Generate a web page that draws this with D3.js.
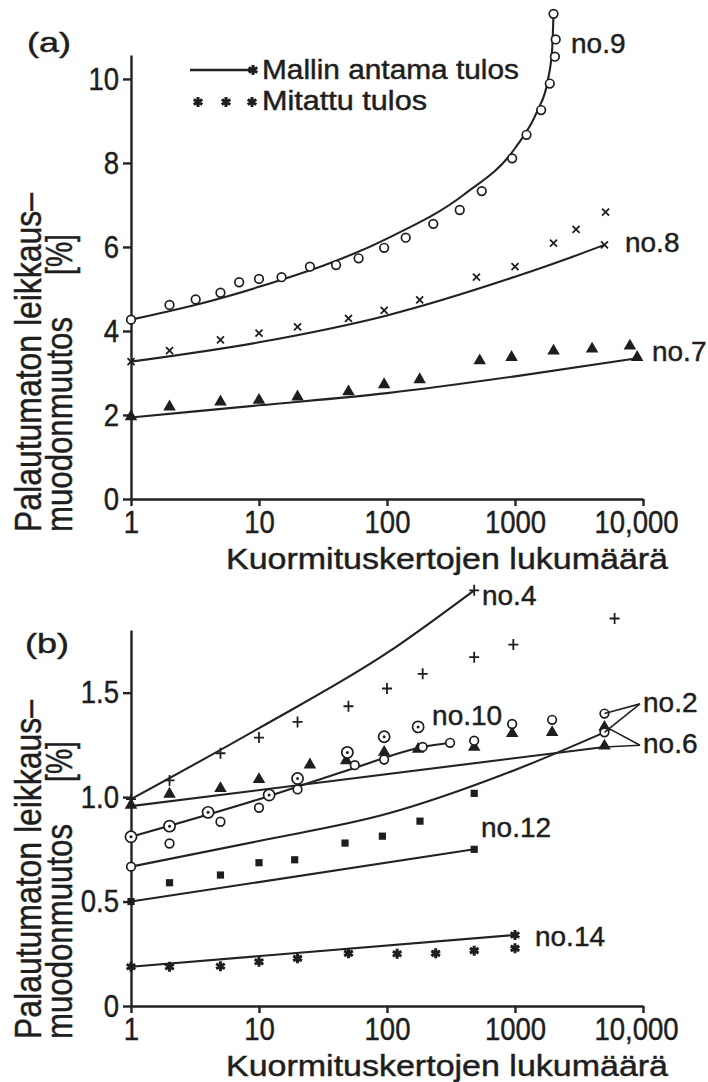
<!DOCTYPE html>
<head>
  <meta charset="utf-8">
  <script src="https://cdn.jsdelivr.net/npm/d3@7"></script>
  <style>
    body { margin: 0; background: #fff; }
    svg { display: block; }
    text { font-family: "Liberation Sans", Arial, sans-serif; fill: #1e1e1e; stroke: #1e1e1e; stroke-width: 0.45px; }
    .axis path, .axis line { stroke: #222; stroke-width: 2.4; }
  </style>
</head>
<body>
<div id="chart"></div>
<script>

// ---- data (x = number of load cycles, y = permanent shear strain %) ----
var ticksX = [1, 10, 100, 1000, 10000]
  , tickLabelsX = ["1", "10", "100", "1000", "10,000"]
  , ticksA = [0, 2, 4, 6, 8, 10]
  , tickLabelsA = ["0", "2", "4", "6", "8", "10"]
  , ticksB = [0, 0.5, 1.0, 1.5]
  , tickLabelsB = ["0", "0.5", "1.0", "1.5"]

var xTitle = "Kuormituskertojen lukumäärä"
  , yTitle1 = "Palautumaton leikkaus–"
  , yTitle2 = "muodonmuutos"
  , yUnit = "[%]"
  , legendModel = "Mallin antama tulos"
  , legendMeasured = "Mitattu tulos"

// panel (a)
var no9Model = [[1,4.27],[3,4.6],[10,5.05],[100,6.2],[400,7.25],[1000,8.35],[1500,9.25],[1800,9.95],[1950,10.7],[2000,11.55]]
var no9Measured = [[2,4.62],[3.2,4.75],[5,4.91],[7,5.16],[10,5.24],[15,5.28],[25,5.53],[40,5.57],[60,5.73],[95,5.98],[140,6.22],[230,6.55],[370,6.88],[550,7.33],[950,8.11],[1230,8.67],[1600,9.26],[1870,9.89],[2050,10.53],[2080,10.94]]
var no8Model = [[1,3.27],[10,3.73],[100,4.37],[1000,5.29],[2400,5.69],[5000,6.05]]
var no8Measured = [[2,3.53],[5,3.79],[10,3.95],[20,4.1],[50,4.3],[95,4.49],[180,4.74],[500,5.28],[1000,5.53],[2000,6.09],[3000,6.42],[5100,6.83]]
var no7Model = [[1,1.94],[10,2.23],[100,2.52],[1000,2.92],[9000,3.35]]
var no7Measured = [[2,2.17],[5,2.29],[10,2.33],[20,2.41],[50,2.53],[95,2.7],[180,2.82],[530,3.27],[940,3.35],[2000,3.5],[4000,3.55],[7900,3.62]]

// panel (b)
var no4Model = [[1,0.99],[10,1.33],[100,1.69],[480,1.99]]
var no4Measured = [[2,1.08],[5,1.21],[10,1.285],[20,1.36],[50,1.435],[100,1.52],[190,1.59],[480,1.67],[970,1.73],[6000,1.855]]
var no6Model = [[1,0.957],[5000,1.24]]
var no6Measured = [[2,1.01],[5,1.037],[10,1.08],[25,1.15],[48,1.17],[95,1.21],[175,1.225],[480,1.234],[950,1.3],[1950,1.305],[5000,1.33]]
var no10Model = [[1,0.81],[10,0.99],[50,1.13],[190,1.24],[311,1.26]]
var no10Measured = [[2,0.861],[4,0.927],[12,1.01],[20,1.089],[49,1.214],[95,1.289],[175,1.336]]
var no2Model = [[1,0.667],[10,0.79],[100,0.92],[1000,1.13],[5000,1.31]]
var no2Measured = [[2,0.778],[5,0.882],[10,0.949],[20,1.037],[56,1.153],[95,1.18],[190,1.24],[480,1.27],[950,1.35],[1950,1.37],[5000,1.4]]
var no12Model = [[1,0.5],[480,0.75]]
var no12Measured = [[2,0.59],[5,0.627],[10,0.686],[19,0.7],[47,0.78],[92,0.813],[181,0.885],[480,1.018]]
var no14Model = [[1,0.188],[1000,0.34]]
var no14Measured = [[2,0.188],[5,0.19],[10,0.212],[20,0.228],[50,0.252],[120,0.25],[240,0.252],[480,0.265],[1000,0.276]]

// ---- layout ----
var width = 708, height = 1082

var svg = d3.select("#chart").append("svg")
    .attr("width", width)
    .attr("height", height)

var x = d3.scaleLog().domain([1, 10000]).range([131, 643])

var panels = [
  { name: "(a)", y: d3.scaleLinear().domain([0, 10.57]).range([499, 55]),
    ticks: ticksA, labels: tickLabelsA, tag: [27, 52],
    series: [
      { model: no9Model, meas: no9Measured, mark: "circle", start: "circle", end: "circle", label: "no.9", at: [2740, 10.62] },
      { model: no8Model, meas: no8Measured, mark: "cross", start: "cross", end: "cross", label: "no.8", at: [7230, 5.88] },
      { model: no7Model, meas: no7Measured, mark: "tri", start: "tri", end: "tri", label: "no.7", at: [11750, 3.29] }
    ] },
  { name: "(b)", y: d3.scaleLinear().domain([0, 1.8]).range([1006, 630]),
    ticks: ticksB, labels: tickLabelsB, tag: [25, 653],
    series: [
      { model: no4Model, meas: no4Measured, mark: "plus", start: "plus", end: "plus", label: "no.4", at: [552, 1.919] },
      { model: no6Model, meas: no6Measured, mark: "tri", start: "tri", end: "tri", label: "no.6", at: [10000, 1.21] },
      { model: no10Model, meas: no10Measured, mark: "dot", start: "dot", end: "circle", label: "no.10", at: [225, 1.344] },
      { model: no2Model, meas: no2Measured, mark: "circle", start: "circle", end: "circle", label: "no.2", at: [10000, 1.408] },
      { model: no12Model, meas: no12Measured, mark: "square", start: "square", end: "square", label: "no.12", at: [543, 0.809] },
      { model: no14Model, meas: no14Measured, mark: "star", start: "star", end: "star", label: "no.14", at: [1432, 0.287] }
    ] }
]

// squeeze / stretch text horizontally to a factor of its natural width
function fit(sel, k) {
  sel.each(function() {
    var w = this.getComputedTextLength()
    d3.select(this).attr("textLength", w * k).attr("lengthAdjust", "spacingAndGlyphs")
  })
}

function mark(g, type, px, py) {
  var ink = "#1e1e1e"
  if (type == "circle") {
    g.append("circle").attr("cx", px).attr("cy", py).attr("r", 4.3)
      .style("fill", "#fff").style("stroke", ink).style("stroke-width", 1.7)
  } else if (type == "dot") {
    g.append("circle").attr("cx", px).attr("cy", py).attr("r", 5.6)
      .style("fill", "#fff").style("stroke", ink).style("stroke-width", 1.7)
    g.append("circle").attr("cx", px).attr("cy", py).attr("r", 1.5).style("fill", ink)
  } else if (type == "tri") {
    g.append("path").attr("d", d3.symbol(d3.symbolTriangle, 68)())
      .attr("transform", "translate(" + px + "," + (py - 1) + ")").style("fill", ink)
  } else if (type == "square") {
    g.append("path").attr("d", d3.symbol(d3.symbolSquare, 52)())
      .attr("transform", "translate(" + px + "," + py + ")").style("fill", ink)
  } else if (type == "star") {
    g.append("path").attr("d", d3.symbol(d3.symbolAsterisk, 70)())
      .attr("transform", "translate(" + px + "," + py + ")")
      .style("fill", "none").style("stroke", ink).style("stroke-width", 3)
  } else if (type == "plus") {
    g.append("path").attr("d", "M-5,0H5M0,-5.5V5.5")
      .attr("transform", "translate(" + px + "," + py + ")")
      .style("stroke", ink).style("stroke-width", 1.8)
  } else if (type == "cross") {
    g.append("path").attr("d", "M-3.5,-3.5L3.5,3.5M-3.5,3.5L3.5,-3.5")
      .attr("transform", "translate(" + px + "," + py + ")")
      .style("stroke", ink).style("stroke-width", 1.8)
  }
}

panels.forEach(function(p) {
  var y = p.y
  var g = svg.append("g")

  // axes
  var yAxis = g.append("g").attr("class", "axis")
      .attr("transform", "translate(" + x(1) + ",0)")
      .call(d3.axisLeft(y).tickValues(p.ticks).tickFormat(function(d, i) { return p.labels[i] })
        .tickSize(8).tickSizeOuter(0).tickPadding(4))
  var xAxis = g.append("g").attr("class", "axis")
      .attr("transform", "translate(0," + y(0) + ")")
      .call(d3.axisBottom(x).tickValues(ticksX).tickFormat(function(d, i) { return tickLabelsX[i] })
        .tickSize(7).tickSizeOuter(0).tickPadding(4))
  g.selectAll(".axis text").style("font-size", "32px").style("font-family", null).attr("fill", "#1e1e1e")
  fit(g.selectAll(".axis text"), 0.86)
  xAxis.selectAll(".tick text").filter(function(d) { return d == 10000 }).attr("dx", -7)

  // model lines
  var line = d3.line()
      .x(function(d) { return x(d[0]) })
      .y(function(d) { return y(d[1]) })
      .curve(d3.curveMonotoneX)

  p.series.forEach(function(s) {
    g.append("path").datum(s.model).attr("d", line)
      .style("fill", "none").style("stroke", "#222").style("stroke-width", 2.1)
    s.meas.forEach(function(d) { mark(g, s.mark, x(d[0]), y(d[1])) })
    mark(g, s.start, x(s.model[0][0]), y(s.model[0][1]))
    var last = s.model[s.model.length - 1]
    mark(g, s.end, x(last[0]), y(last[1]))
    g.append("text").attr("x", x(s.at[0])).attr("y", y(s.at[1]))
      .style("font-size", "28px").text(s.label)
  })

  // titles
  var t = g.append("text").attr("x", 226).attr("y", y(0) + 70)
      .style("font-size", "29px").text(xTitle)
  t.attr("textLength", 442).attr("lengthAdjust", "spacingAndGlyphs")

  var y0 = y(0) + 33
  g.append("text").attr("transform", "translate(41," + y0 + ") rotate(-90)")
      .style("font-size", "36px").attr("textLength", 339).attr("lengthAdjust", "spacingAndGlyphs").text(yTitle1)
  g.append("text").attr("transform", "translate(72," + y0 + ") rotate(-90)")
      .style("font-size", "36px").attr("textLength", 215).attr("lengthAdjust", "spacingAndGlyphs").text(yTitle2)
  g.append("text").attr("transform", "translate(72," + (y0 - 257) + ") rotate(-90)")
      .style("font-size", "36px").attr("textLength", 41).attr("lengthAdjust", "spacingAndGlyphs").text(yUnit)

  g.append("text").attr("x", p.tag[0]).attr("y", p.tag[1])
      .style("font-size", "28px").attr("textLength", 44).attr("lengthAdjust", "spacingAndGlyphs").text(p.name)
})

// leader lines for no.2 / no.6
var yB = panels[1].y
var leaders = [
  [[640, yB(1.408) - 8], [x(5000), yB(1.4)]],
  [[640, yB(1.408) - 8], [x(5000), yB(1.31)]],
  [[640, yB(1.21) - 8], [x(5000), yB(1.24)]],
  [[640, yB(1.21) - 8], [x(5000), yB(1.34)]]
]
svg.selectAll(".leader").data(leaders).enter().append("path")
    .attr("class", "leader")
    .attr("d", function(d) { return d3.line()(d) })
    .style("stroke", "#222").style("stroke-width", 1.6)

// legend (panel a)
var lg = svg.append("g")
lg.append("line").attr("x1", 190).attr("x2", 252).attr("y1", 70).attr("y2", 70)
    .style("stroke", "#222").style("stroke-width", 2.4)
mark(lg, "star", 253, 70)
lg.append("text").attr("x", 262).attr("y", 79).style("font-size", "27px")
    .attr("textLength", 257).attr("lengthAdjust", "spacingAndGlyphs").text(legendModel)
;[198, 226, 252].forEach(function(px) { mark(lg, "star", px, 102) })
lg.append("text").attr("x", 262).attr("y", 110).style("font-size", "27px")
    .attr("textLength", 165).attr("lengthAdjust", "spacingAndGlyphs").text(legendMeasured)

</script>
</body>
